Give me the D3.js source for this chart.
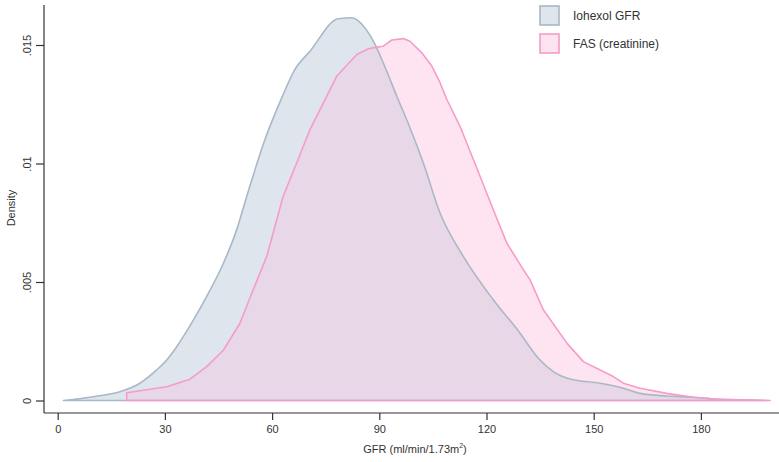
<!DOCTYPE html>
<html><head><meta charset="utf-8">
<script src="https://cdn.jsdelivr.net/npm/d3@7"></script>
<style>body{margin:0;background:#fff}svg{display:block;font-family:"Liberation Sans",Arial,sans-serif}</style>
</head><body>
<svg id="c" width="779" height="462"></svg>
<script>
const seriesNames = ["Iohexol GFR", "FAS (creatinine)"];
const iohexolGFR = [1.6,10.0,17.4,23.0,27.7,30.5,33.3,38.0,41.7,46.4,50.1,52.9,58.0,62.7,66.4,70.6,78.5,82.3,86.3,88.8,91.1,94.9,98.6,102.3,107.0,113.5,121.9,129.4,134.5,138.7,143.4,151.8,158.3,163.0,170.4,177.9,184.4,198.4];
const iohexolDensity = [0,0.00016,0.00037,0.00073,0.00129,0.00171,0.00227,0.00340,0.00439,0.00580,0.00721,0.00861,0.01101,0.01277,0.01397,0.01474,0.01611,0.01615,0.01566,0.01503,0.01425,0.01284,0.0115,0.01003,0.00791,0.00608,0.00425,0.00284,0.00178,0.00122,0.00091,0.00073,0.00052,0.00030,0.00019,0.00014,0.00006,0];
const fasGFR = [19.3,19.3,23.0,30.5,37.0,41.7,46.4,51.0,54.7,58.5,61.3,63.1,66.9,70.6,73.9,78.1,83.7,86.9,89.3,91.1,93.5,96.7,98.6,101.9,104.7,107.0,108.9,112.6,118.2,121.9,125.7,130.3,132.2,135.9,142.5,147.1,151.8,155.5,158.3,163.0,170.4,177.9,184.4,199.4];
const fasDensity = [0,0.00033,0.00041,0.00058,0.00090,0.00143,0.00213,0.00326,0.00467,0.00608,0.00763,0.00862,0.01003,0.01143,0.01242,0.01369,0.01460,0.01484,0.01491,0.01495,0.01521,0.01527,0.01516,0.01467,0.01411,0.01341,0.01270,0.01157,0.00946,0.00805,0.00664,0.00552,0.00509,0.00383,0.00242,0.00164,0.00129,0.00101,0.00073,0.00052,0.00030,0.00014,0.00005,0];
const xTicks = [0,30,60,90,120,150,180];
const yTicks = [0,0.005,0.01,0.015];
const yTickLabels = ["0",".005",".01",".015"];

const svg = d3.select("#c");
const x = d3.scaleLinear().domain([0,180]).range([57.7,700.9]);
const y = d3.scaleLinear().domain([0,0.015]).range([400.5,45]);

const io = iohexolGFR.map((g,i)=>({g, d: iohexolDensity[i]}));
const fa = fasGFR.map((g,i)=>({g, d: fasDensity[i]}));
const area = d3.area().x(p=>x(p.g)).y0(y(0)).y1(p=>y(p.d)).curve(d3.curveMonotoneX);
const faArea = d3.area().x(p=>x(p.g)).y0(y(0)).y1(p=>y(p.d)).curve(d3.curveLinear);

const defs = svg.append("defs");
defs.append("clipPath").attr("id","fasClip").append("path").attr("d", faArea(fa));

svg.append("path").attr("d", area(io)).attr("fill","#dfe5ec");
svg.append("path").attr("d", faArea(fa)).attr("fill","#fee4f1");
svg.append("path").attr("d", area(io)).attr("fill","#e8d7e7").attr("clip-path","url(#fasClip)");
svg.append("path").attr("d", area(io)).attr("fill","none").attr("stroke","#a9b8c6").attr("stroke-width",1.6).attr("stroke-linejoin","round");
svg.append("path").attr("d", faArea(fa)).attr("fill","none").attr("stroke","#f59cc9").attr("stroke-width",1.6).attr("stroke-linejoin","round");

// axes
const axCol = "#333";
svg.append("line").attr("x1",44).attr("x2",44).attr("y1",5).attr("y2",413).attr("stroke",axCol).attr("stroke-width",1.2);
svg.append("line").attr("x1",44).attr("x2",779).attr("y1",413).attr("y2",413).attr("stroke",axCol).attr("stroke-width",1.2);

const xg = svg.append("g").attr("transform","translate(0,413)")
  .call(d3.axisBottom(x).tickValues(xTicks).tickSize(7).tickPadding(5));
xg.select(".domain").remove();
xg.selectAll("line").attr("stroke",axCol).attr("stroke-width",1.2);
xg.selectAll("text").attr("font-size",11).attr("fill","#333").attr("font-family","Liberation Sans, Arial, sans-serif");

const yg = svg.append("g").attr("transform","translate(44,0)")
  .call(d3.axisLeft(y).tickValues(yTicks).tickFormat((d,i)=>yTickLabels[i]).tickSize(8).tickPadding(0));
yg.select(".domain").remove();
yg.selectAll("line").attr("stroke",axCol).attr("stroke-width",1.2);
yg.selectAll("text").attr("font-size",11).attr("fill","#333").attr("font-family","Liberation Sans, Arial, sans-serif")
  .attr("x",0).attr("dy",0).attr("text-anchor","middle")
  .attr("transform","translate(-13,0) rotate(-90)");

svg.append("text").attr("transform","translate(15,208) rotate(-90)").attr("text-anchor","middle")
  .attr("font-size",11).attr("fill","#333").text("Density");

const xl = svg.append("text").attr("x",415).attr("y",453).attr("text-anchor","middle").attr("font-size",11).attr("fill","#333");
xl.append("tspan").text("GFR (ml/min/1.73m");
xl.append("tspan").attr("font-size",7).attr("dy",-5).text("2");
xl.append("tspan").attr("dy",5).text(")");

// legend
const leg = svg.append("g");
const legFill = ["#dfe5ec","#fee4f1"], legStroke = ["#a9b8c6","#f59cc9"];
seriesNames.forEach((n,i)=>{
  const yy = 6 + i*28;
  leg.append("rect").attr("x",540).attr("y",yy).attr("width",19).attr("height",19)
    .attr("fill",legFill[i]).attr("stroke",legStroke[i]).attr("stroke-width",1.6);
  leg.append("text").attr("x",573).attr("y",yy+14).attr("font-size",12).attr("fill","#333").text(n);
});
</script>
</body></html>
